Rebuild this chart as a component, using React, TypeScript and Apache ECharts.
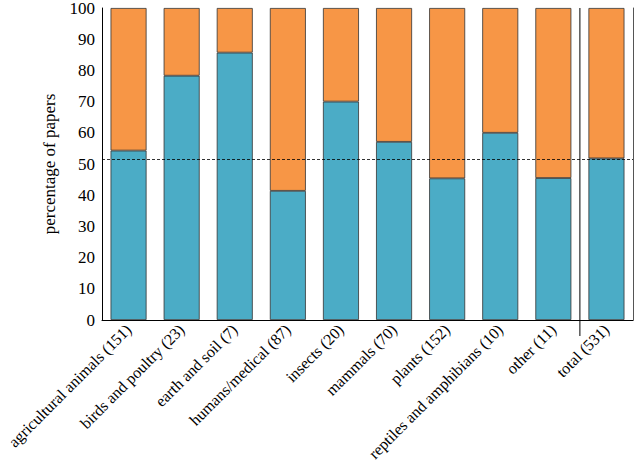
import React, { useEffect, useRef } from "react";
import * as echarts from "echarts";

const categories = [
  "agricultural animals (151)",
  "birds and poultry (23)",
  "earth and soil (7)",
  "humans/medical (87)",
  "insects (20)",
  "mammals (70)",
  "plants (152)",
  "reptiles and amphibians (10)",
  "other (11)",
  "total (531)",
];
const bluePct = [54.3, 78.3, 85.7, 41.4, 70.0, 57.1, 45.4, 60.0, 45.5, 51.8];
const orangePct = bluePct.map((v) => +(100 - v).toFixed(1));
const overallPct = 51.6;
const yTicks = { min: 0, max: 100, interval: 10 };
// separator drawn between these two categories
const separatorBetween = [8, 9];

const FONT = "Liberation Serif";
const FS = 17;
const FS_X = 16;

export default function App() {
  const ref = useRef<HTMLDivElement>(null);
  useEffect(() => {
    if (!ref.current) return;
    const chart = echarts.init(ref.current, null, { renderer: "svg" });
    chart.setOption({
      animation: false,
      textStyle: { fontFamily: FONT },
      grid: {
        left: 102,
        right: 1,
        top: 8,
        bottom: 146,
        containLabel: false,
        outerBoundsMode: "none",
      },
      xAxis: {
        type: "category",
        data: categories,
        boundaryGap: true,
        axisLine: { show: true, lineStyle: { color: "#000", width: 1 } },
        axisTick: { show: false },
        splitLine: { show: false },
        axisLabel: {
          interval: 0,
          rotate: 45,
          margin: 7,
          fontFamily: FONT,
          fontSize: FS_X,
          color: "#000",
        },
      },
      yAxis: [
        {
          type: "value",
          min: yTicks.min,
          max: yTicks.max,
          interval: yTicks.interval,
          name: "percentage of papers",
          nameLocation: "middle",
          nameGap: 44,
          nameTextStyle: { fontFamily: FONT, fontSize: FS, color: "#000" },
          axisLine: { show: true, lineStyle: { color: "#000", width: 1 } },
          axisTick: { show: false },
          splitLine: { show: false },
          axisLabel: { fontFamily: FONT, fontSize: FS, color: "#000", margin: 7 },
        },
        {
          type: "value",
          min: yTicks.min,
          max: yTicks.max,
          interval: yTicks.interval,
          position: "right",
          axisLine: { show: true, lineStyle: { color: "#555", width: 1 } },
          axisTick: { show: false },
          splitLine: { show: false },
          axisLabel: { show: false },
        },
      ],
      series: [
        {
          type: "bar",
          stack: "s",
          data: bluePct,
          barWidth: 36,
          itemStyle: { color: "#4BACC6", borderColor: "#333", borderWidth: 0.8 },
          markLine: {
            silent: true,
            symbol: "none",
            label: { show: false },
            lineStyle: { color: "#000", type: [3, 2], width: 0.8 },
            data: [{ yAxis: overallPct }],
          },
        },
        {
          type: "bar",
          stack: "s",
          data: orangePct,
          barWidth: 36,
          itemStyle: { color: "#F79646", borderColor: "#333", borderWidth: 0.8 },
        },
      ],
    });
    const pA = chart.convertToPixel({ xAxisIndex: 0, yAxisIndex: 0 }, [separatorBetween[0], yTicks.max]) as number[];
    const pB = chart.convertToPixel({ xAxisIndex: 0, yAxisIndex: 0 }, [separatorBetween[1], yTicks.min]) as number[];
    if (pA && pB) {
      const x = (pA[0] + pB[0]) / 2;
      chart.setOption({
        graphic: [
          {
            type: "line",
            shape: { x1: x, y1: pA[1], x2: x, y2: pB[1] + 16 },
            style: { stroke: "#000", lineWidth: 1 },
            silent: true,
          },
        ],
      });
    }
    return () => chart.dispose();
  }, []);
  return <div ref={ref} style={{ width: 634, height: 466, position: "absolute", left: 0, top: 0 }} />;
}
